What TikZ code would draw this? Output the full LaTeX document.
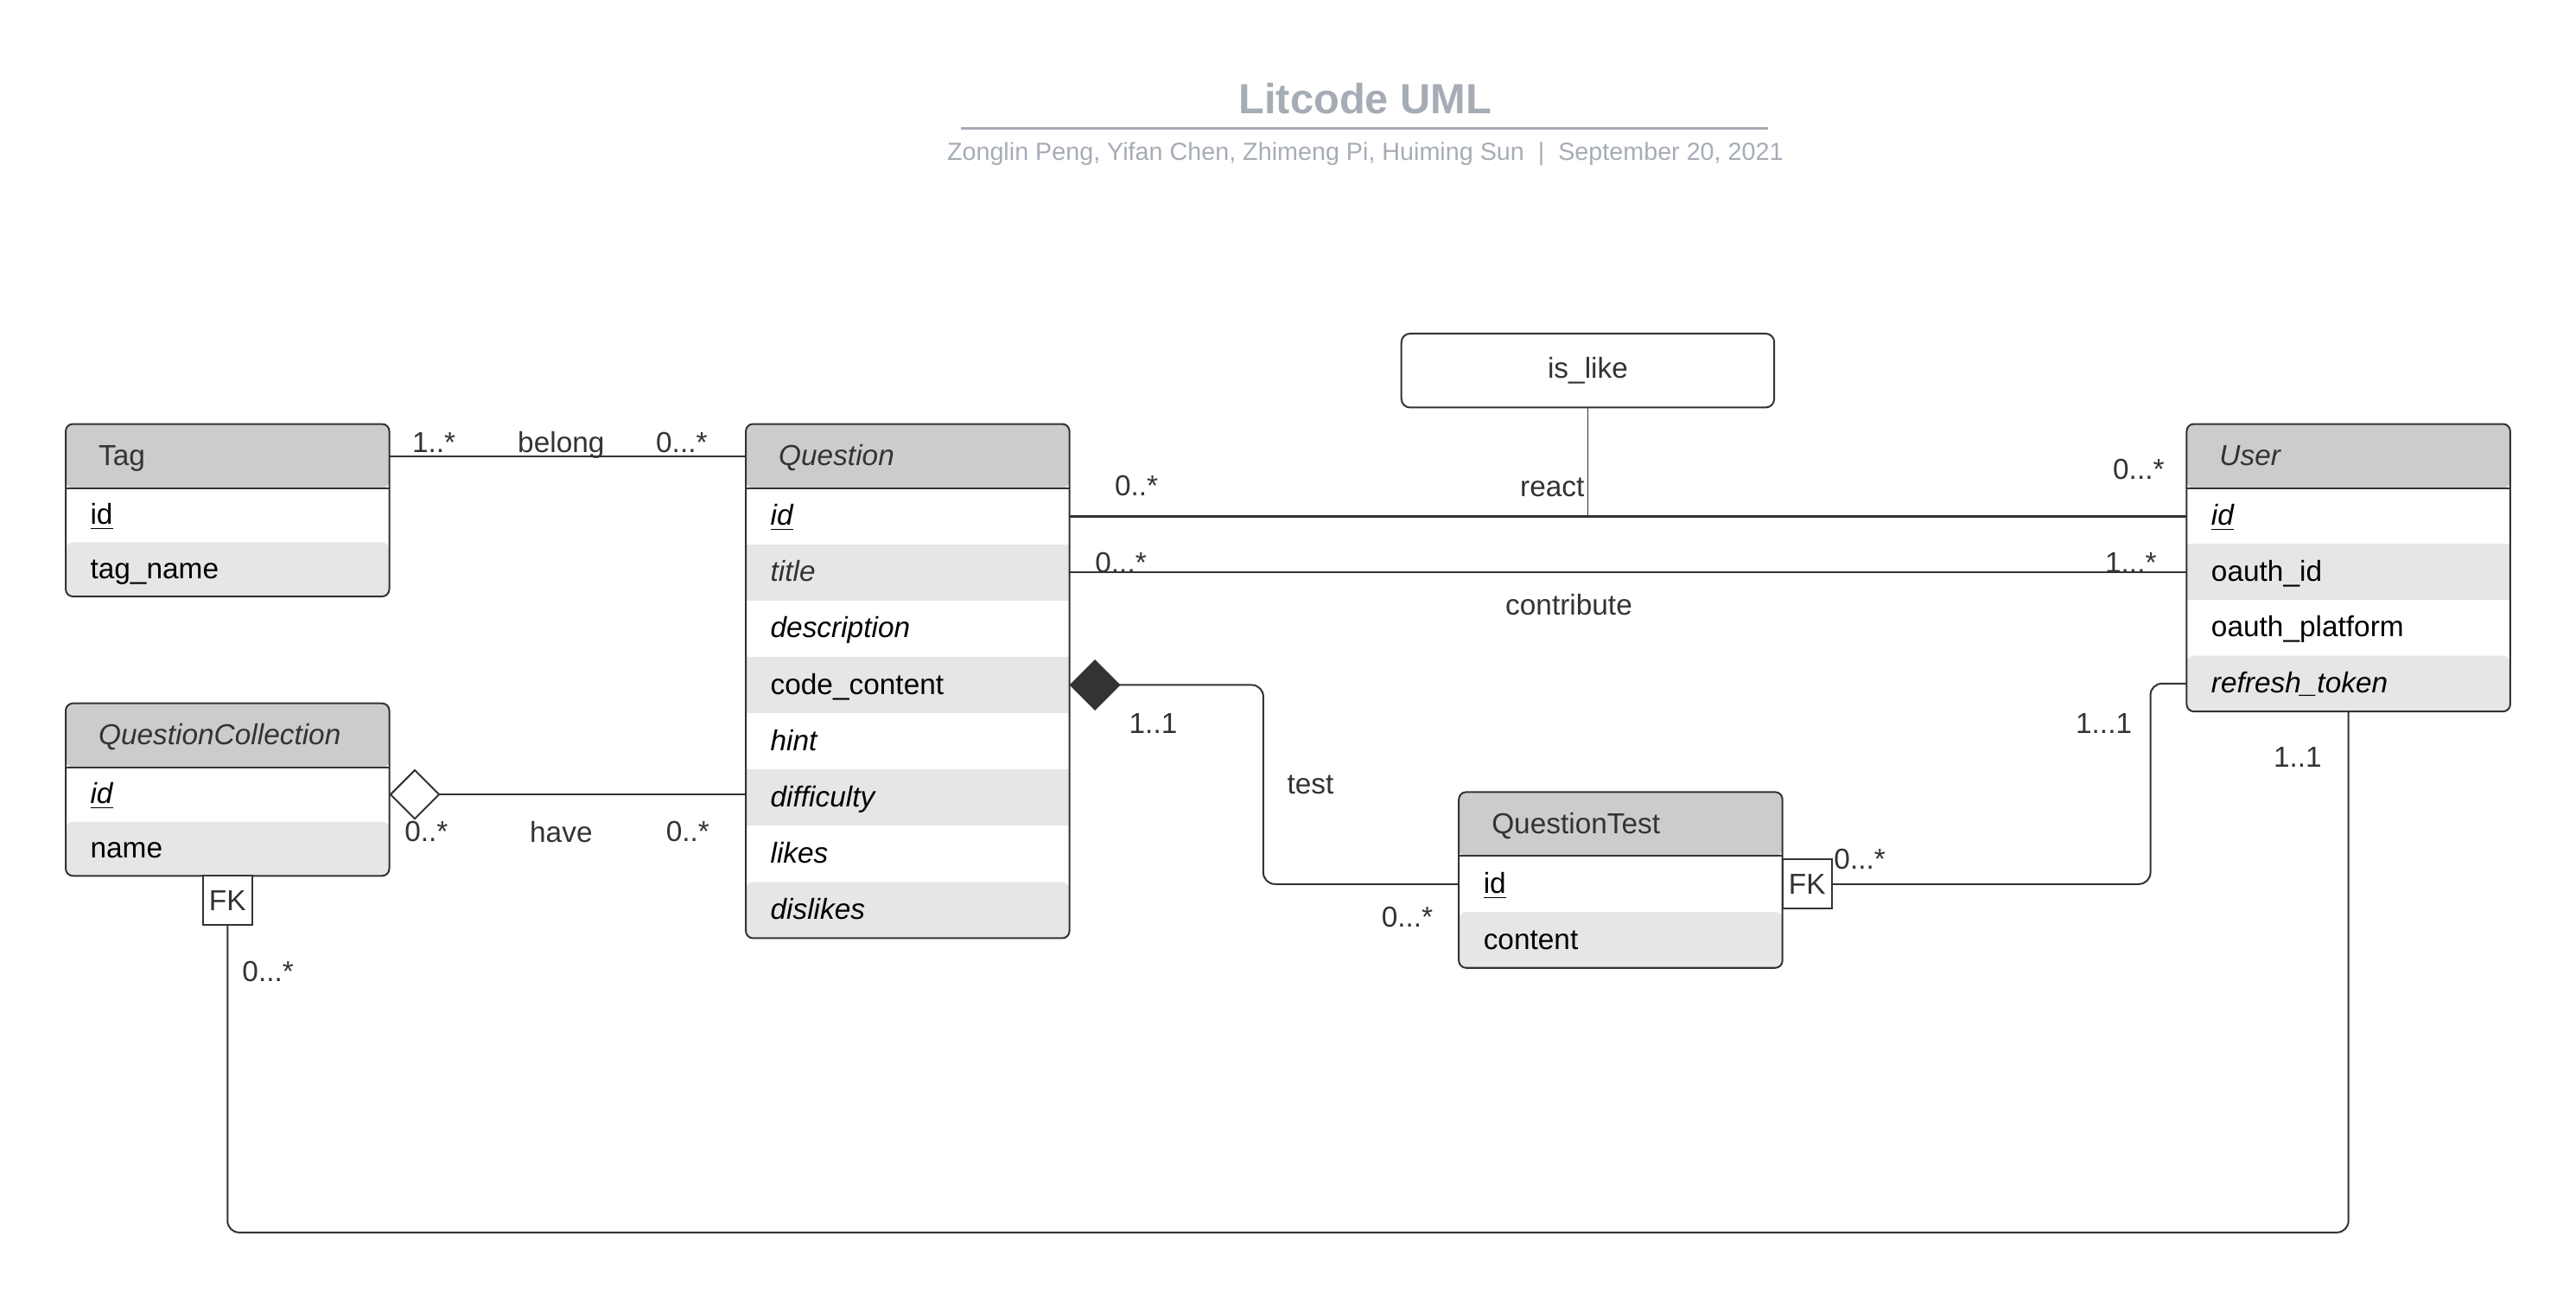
\documentclass[tikz,border=0pt]{standalone}
\usepackage{fontspec}
\setmainfont{Liberation Sans}
\usepackage{tikz}
\usetikzlibrary{positioning,calc,shapes.geometric}

\definecolor{umlLine}{RGB}{51,51,51}
\definecolor{umlHead}{RGB}{204,204,204}
\definecolor{umlAlt}{RGB}{230,230,230}
\definecolor{umlTitle}{RGB}{166,172,181}

\begin{document}
\begin{tikzpicture}[x=0.02cm, y=-0.02cm, font=\fontsize{10}{12}\selectfont,
    uml head/.style={rectangle, fill=umlHead, text=umlLine, rounded corners=2.5pt,
      minimum height=0.78cm, text width=3.14cm, inner xsep=0.4cm, inner ysep=0pt,
      outer sep=0pt, align=left, text height=1.7ex, text depth=0.5ex},
    uml attr/.style={rectangle, minimum height=0.68cm, text width=3.34cm,
      inner xsep=0.3cm, inner ysep=0pt, outer sep=0pt, align=left,
      text height=1.7ex, text depth=0.5ex},
    uml alt/.style={uml attr, fill=umlAlt},
    uml last/.style={rounded corners=2.5pt},
    uml short/.style={minimum height=0.66cm},
    uml tall/.style={minimum height=0.685cm},
    uml frame/.style={draw=umlLine, line width=0.6pt, rounded corners=2.5pt},
    uml link/.style={draw=umlLine, line width=0.6pt, rounded corners=4pt},
    uml mult/.style={text=umlLine, inner sep=1pt, text depth=0pt},
    uml fk/.style={rectangle, draw=umlLine, fill=white, line width=0.6pt,
      minimum size=0.6cm, inner sep=0pt, outer sep=0pt, text=umlLine},
    uml agg/.style={diamond, draw=umlLine, fill=white, line width=0.6pt,
      minimum width=0.6cm, minimum height=0.6cm, inner sep=0pt},
    uml comp/.style={uml agg, fill=umlLine}]

    \useasboundingbox (0,0) rectangle (1568,791);

    % title block
    \node[text=umlTitle, font=\fontsize{14.6}{17}\selectfont\bfseries] (title) at (831,60) {Litcode UML};
    \draw[umlTitle, line width=1pt] (585,78) -- (1076,78);
    \node[text=umlTitle, font=\fontsize{8.6}{10}\selectfont] (byline) at (831,93.5)
        {Zonglin Peng, Yifan Chen, Zhimeng Pi, Huiming Sun\ \ |\ \ September 20, 2021};

    % Tag
    \node[uml head, anchor=north west] (tag) at (40,258) {Tag};
    \node[uml attr, uml short, below=0pt of tag] (tagId) {\underline{id}};
    \node[uml alt, uml short, uml last, below=0pt of tagId] (tagName) {tag\_name};
    \draw[uml frame] (tag.north west) rectangle (tagName.south east);
    \draw[uml frame] (tag.south west) -- (tag.south east);

    % Question
    \node[uml head, anchor=north west] (quest) at (454,258) {\textit{Question}};
    \node[uml attr, uml tall, below=0pt of quest] (qId) {\textit{\underline{id}}};
    \node[uml alt, uml tall, below=0pt of qId] (qTitle) {\textcolor{umlLine}{\textit{title}}};
    \node[uml attr, uml tall, below=0pt of qTitle] (qDesc) {\textit{description}};
    \node[uml alt, uml tall, below=0pt of qDesc] (qCode) {code\_content};
    \node[uml attr, uml tall, below=0pt of qCode] (qHint) {\textit{hint}};
    \node[uml alt, uml tall, below=0pt of qHint] (qDiff) {\textit{difficulty}};
    \node[uml attr, uml tall, below=0pt of qDiff] (qLikes) {\textit{likes}};
    \node[uml alt, uml tall, uml last, below=0pt of qLikes] (qDislikes) {\textit{dislikes}};
    \draw[uml frame] (quest.north west) rectangle (qDislikes.south east);
    \draw[uml frame] (quest.south west) -- (quest.south east);

    % QuestionCollection
    \node[uml head, anchor=north west] (qcol) at (40,428) {\textit{QuestionCollection}};
    \node[uml attr, uml short, below=0pt of qcol] (qcId) {\textit{\underline{id}}};
    \node[uml alt, uml short, uml last, below=0pt of qcId] (qcName) {name};
    \draw[uml frame] (qcol.north west) rectangle (qcName.south east);
    \draw[uml frame] (qcol.south west) -- (qcol.south east);
    \node[uml fk, below=0pt of qcName] (qcFK) {FK};

    % User
    \node[uml head, anchor=north west] (user) at (1331,258) {\textit{User}};
    \node[uml attr, below=0pt of user] (uId) {\textit{\underline{id}}};
    \node[uml alt, below=0pt of uId] (uOauth) {oauth\_id};
    \node[uml attr, below=0pt of uOauth] (uPlat) {oauth\_platform};
    \node[uml alt, uml last, below=0pt of uPlat] (uToken) {\textit{refresh\_token}};
    \draw[uml frame] (user.north west) rectangle (uToken.south east);
    \draw[uml frame] (user.south west) -- (user.south east);

    % QuestionTest
    \node[uml head, anchor=north west] (qtest) at (888,482) {QuestionTest};
    \node[uml attr, below=0pt of qtest] (qtId) {\underline{id}};
    \node[uml alt, uml last, below=0pt of qtId] (qtContent) {content};
    \draw[uml frame] (qtest.north west) rectangle (qtContent.south east);
    \draw[uml frame] (qtest.south west) -- (qtest.south east);
    \node[uml fk, right=0pt of qtId] (qtFK) {FK};

    % is_like
    \node[rectangle, draw=umlLine, line width=0.6pt, rounded corners=3pt, text=umlLine,
        minimum width=4.54cm, minimum height=0.9cm] (isLike) at (966.5,225.5) {is\_like};
    \coordinate (reactMid) at (isLike.south |- qId.east);

    % belong
    \draw[uml link] (tag.east) -- (quest.west)
        node[uml mult, pos=0.125, above] (mBelongT) {1..*}
        node[uml mult, pos=0.482, above] (lBelong) {belong}
        node[uml mult, pos=0.82, above] (mBelongQ) {0...*};

    % react
    \draw[uml link, line width=0.9pt] (qId.east) -- (qId.east -| uId.west)
        node[uml mult, pos=0.06, above=0.195cm] (mReactQ) {0..*}
        node[uml mult, pos=0.957, above=0.4cm] (mReactU) {0...*};
    \draw[draw=umlLine, line width=0.4pt] (isLike.south) -- (reactMid);
    \node[uml mult, above left=0.2cm and 0cm of reactMid] (lReact) {react};

    % contribute
    \draw[uml link, line width=0.5pt] (qTitle.east) -- (qTitle.east -| uOauth.west)
        node[uml mult, pos=0.046, anchor=base] (mContQ) {0...*}
        node[uml mult, pos=0.95, anchor=base] (mContU) {1...*}
        node[uml mult, pos=0.447, below=0.22cm] (lCont) {contribute};

    % test
    \draw[uml link] (qCode.east) -- ++(118,0)
        node[uml mult, pos=0.432, below=0.3cm] (mTestQ) {1..1}
        |- (qtId.west)
        node[uml mult, pos=0.25, right=0.245cm] (lTest) {test}
        node[uml mult, pos=0.868, below=0.23cm] (mTestT) {0...*};
    \node[uml comp, right=0pt of qCode] (testDia) {};

    % question test -> user
    \draw[uml link] (qtFK.east) -- ++(194,0)
        node[uml mult, pos=0.088, above=0.14cm] (mFkT) {0...*}
        |- (uToken.west)
        node[uml mult, pos=0.4, left=0.18cm] (mFkU) {1...1};

    % have
    \draw[uml link] (qcId.east) -- (qcId.east -| qDiff.west)
        node[uml mult, pos=0.104, below=0.28cm] (mHaveC) {0..*}
        node[uml mult, pos=0.482, below=0.28cm] (lHave) {have}
        node[uml mult, pos=0.837, below=0.28cm] (mHaveQ) {0..*};
    \node[uml agg, right=0pt of qcId] (haveDia) {};

    % collection -> user
    \draw[uml link] (qcFK.south) -- ++(0,187)
        node[uml mult, pos=0.15, right=0.135cm] (mOwnC) {0...*}
        -| (uToken.south)
        node[uml mult, pos=0.956, left=0.28cm] (mOwnU) {1..1};

\end{tikzpicture}
\end{document}
